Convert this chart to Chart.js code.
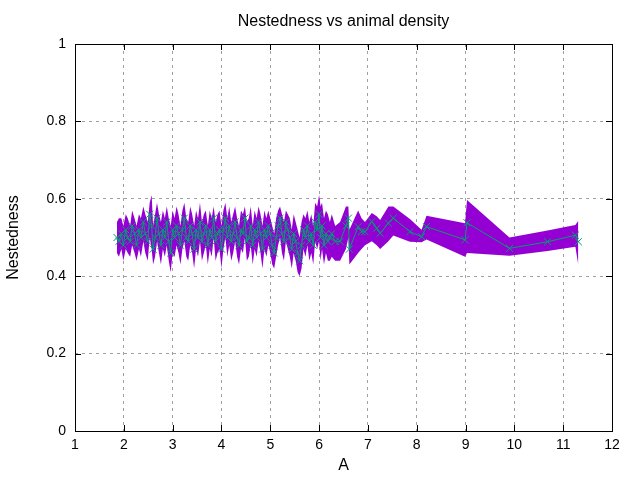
<!DOCTYPE html>
<html>
<head>
<meta charset="utf-8">
<script src="https://cdn.jsdelivr.net/npm/chart.js@4.4.1/dist/chart.umd.min.js"></script>
<style>
  body { margin: 0; background: #fff; }
</style>
</head>
<body>
<canvas id="chart" width="640" height="480"></canvas>
<script>
// animal density A, and nestedness mean / min / max at each A
const densityA = [
  1.86, 1.90, 1.95, 1.99, 2.04, 2.08, 2.13, 2.17, 2.22, 2.26, 2.31, 2.35, 2.40, 2.44, 2.49,
  2.53, 2.57, 2.60, 2.64, 2.68, 2.72, 2.76, 2.80, 2.84, 2.88, 2.92, 2.96, 3.00,
  3.04, 3.08, 3.12, 3.16, 3.20, 3.24, 3.28, 3.32, 3.36, 3.40, 3.44, 3.48, 3.52, 3.56, 3.60, 3.64, 3.68, 3.72, 3.76, 3.80, 3.84, 3.88, 3.92, 3.96,
  4.00, 4.04, 4.08, 4.12, 4.16, 4.20, 4.24, 4.28, 4.32, 4.36, 4.40, 4.44, 4.48, 4.52, 4.56, 4.60, 4.64, 4.68, 4.72, 4.76, 4.80, 4.84, 4.88, 4.92, 4.96,
  5.00, 5.04, 5.08, 5.12, 5.16, 5.20, 5.24, 5.28, 5.32, 5.36, 5.40, 5.44, 5.48, 5.52, 5.56, 5.60, 5.64, 5.68, 5.72, 5.76, 5.80, 5.84, 5.88, 5.92, 5.96,
  6.00, 6.03, 6.06, 6.10, 6.14, 6.18, 6.22, 6.26, 6.33, 6.43, 6.55, 6.60, 6.62,
  6.80, 6.87, 6.94, 7.08, 7.18, 7.25, 7.42, 7.52, 7.86, 8.10, 8.20, 8.99, 9.03, 9.90, 10.68, 11.25, 11.31
];
const nestMean = [
  0.50, 0.49, 0.51, 0.48, 0.52, 0.50, 0.49, 0.53, 0.51, 0.48, 0.52, 0.50, 0.54, 0.51, 0.49,
  0.56, 0.53, 0.47, 0.50, 0.55, 0.51, 0.48, 0.52, 0.50, 0.54, 0.49, 0.46, 0.52,
  0.50, 0.53, 0.51, 0.48, 0.52, 0.55, 0.50, 0.49, 0.53, 0.51, 0.47, 0.52, 0.50, 0.54, 0.49, 0.51, 0.53, 0.48, 0.52, 0.50, 0.55, 0.49, 0.51, 0.52,
  0.47, 0.52, 0.55, 0.50, 0.53, 0.49, 0.51, 0.54, 0.50, 0.48, 0.52, 0.51, 0.55, 0.49, 0.50, 0.53, 0.48, 0.52, 0.50, 0.54, 0.51, 0.47, 0.52, 0.50, 0.53,
  0.51, 0.48, 0.46, 0.50, 0.53, 0.55, 0.51, 0.49, 0.54, 0.52, 0.50, 0.47, 0.51, 0.49, 0.46, 0.44, 0.48, 0.52, 0.50, 0.53, 0.49, 0.51, 0.48, 0.54, 0.52,
  0.56, 0.50, 0.53, 0.48, 0.51, 0.49, 0.50, 0.51, 0.49, 0.49, 0.53, 0.55, 0.47,
  0.528, 0.515, 0.515, 0.541, 0.524, 0.511, 0.537, 0.550, 0.515, 0.502, 0.528, 0.494, 0.538, 0.472, 0.489, 0.506, 0.489
];
const nestMin = [
  0.46, 0.45, 0.47, 0.44, 0.47, 0.46, 0.45, 0.48, 0.46, 0.44, 0.47, 0.45, 0.49, 0.46, 0.44,
  0.50, 0.47, 0.43, 0.45, 0.49, 0.46, 0.43, 0.47, 0.45, 0.48, 0.44, 0.41, 0.46,
  0.45, 0.48, 0.46, 0.43, 0.47, 0.49, 0.45, 0.44, 0.48, 0.46, 0.42, 0.47, 0.45, 0.49, 0.44, 0.46, 0.48, 0.43, 0.47, 0.45, 0.50, 0.44, 0.46, 0.47,
  0.42, 0.47, 0.50, 0.45, 0.48, 0.44, 0.46, 0.49, 0.45, 0.43, 0.47, 0.46, 0.50, 0.44, 0.45, 0.48, 0.43, 0.47, 0.45, 0.49, 0.46, 0.42, 0.47, 0.45, 0.48,
  0.46, 0.43, 0.42, 0.45, 0.48, 0.50, 0.46, 0.44, 0.49, 0.47, 0.45, 0.42, 0.46, 0.44, 0.41, 0.40, 0.42, 0.47, 0.45, 0.48, 0.44, 0.46, 0.43, 0.49, 0.47,
  0.49, 0.44, 0.47, 0.43, 0.46, 0.44, 0.44, 0.45, 0.44, 0.44, 0.47, 0.50, 0.43,
  0.460, 0.470, 0.480, 0.490, 0.480, 0.470, 0.490, 0.505, 0.489, 0.488, 0.495, 0.450, 0.460, 0.453, 0.465, 0.476, 0.429
];
const nestMax = [
  0.54, 0.55, 0.55, 0.53, 0.56, 0.55, 0.53, 0.57, 0.55, 0.53, 0.56, 0.55, 0.58, 0.56, 0.54,
  0.59, 0.61, 0.53, 0.56, 0.59, 0.56, 0.54, 0.57, 0.55, 0.58, 0.55, 0.53, 0.57,
  0.55, 0.58, 0.56, 0.53, 0.57, 0.59, 0.55, 0.54, 0.58, 0.56, 0.53, 0.57, 0.55, 0.59, 0.54, 0.56, 0.57, 0.53, 0.57, 0.55, 0.58, 0.54, 0.56, 0.57,
  0.53, 0.57, 0.59, 0.55, 0.58, 0.54, 0.56, 0.58, 0.55, 0.53, 0.57, 0.56, 0.58, 0.54, 0.55, 0.58, 0.53, 0.57, 0.55, 0.58, 0.56, 0.53, 0.57, 0.55, 0.57,
  0.55, 0.53, 0.51, 0.55, 0.57, 0.58, 0.56, 0.54, 0.57, 0.56, 0.55, 0.52, 0.56, 0.54, 0.52, 0.50, 0.54, 0.56, 0.55, 0.57, 0.54, 0.56, 0.53, 0.59, 0.58,
  0.61, 0.58, 0.59, 0.55, 0.57, 0.56, 0.54, 0.56, 0.53, 0.54, 0.58, 0.58, 0.52,
  0.570, 0.550, 0.540, 0.563, 0.555, 0.545, 0.580, 0.580, 0.548, 0.520, 0.556, 0.537, 0.597, 0.500, 0.518, 0.532, 0.543
];
const xTicks = [1, 2, 3, 4, 5, 6, 7, 8, 9, 10, 11, 12];
const yTicks = [0, 0.2, 0.4, 0.6, 0.8, 1];
const chartTitle = 'Nestedness vs animal density';

const FONT = 'Liberation Sans, Arial, sans-serif';
const pts = arr => densityA.map((a, i) => ({ x: a, y: arr[i] }));

// gnuplot style: full black border with inward ticks on every side, title centred over the plot
const frame = {
  id: 'frame',
  afterDraw(chart) {
    const { ctx, chartArea: a, scales } = chart;
    ctx.save();
    ctx.strokeStyle = '#000';
    ctx.lineWidth = 1;
    ctx.beginPath();
    xTicks.forEach(v => {
      const px = Math.round(scales.x.getPixelForValue(v)) + 0.5;
      ctx.moveTo(px, a.bottom); ctx.lineTo(px, a.bottom - 6);
      ctx.moveTo(px, a.top); ctx.lineTo(px, a.top + 6);
    });
    yTicks.forEach(v => {
      const py = Math.round(scales.y.getPixelForValue(v)) + 0.5;
      ctx.moveTo(a.left, py); ctx.lineTo(a.left + 6, py);
      ctx.moveTo(a.right, py); ctx.lineTo(a.right - 6, py);
    });
    ctx.stroke();
    ctx.strokeRect(Math.round(a.left) + 0.5, Math.round(a.top) + 0.5,
      Math.round(a.right - a.left), Math.round(a.bottom - a.top));

    ctx.fillStyle = '#000';
    ctx.font = '16px ' + FONT;
    ctx.textAlign = 'center';
    ctx.textBaseline = 'middle';
    ctx.fillText(chartTitle, (a.left + a.right) / 2, 22);
    ctx.restore();
  }
};

new Chart(document.getElementById('chart'), {
  type: 'line',
  data: {
    datasets: [
      {
        label: 'mean',
        data: pts(nestMean),
        borderColor: '#009e73',
        borderWidth: 1,
        pointStyle: 'crossRot',
        pointRadius: 5,
        pointBorderColor: '#009e73',
        pointBorderWidth: 1,
        fill: false
      },
      {
        label: 'max',
        data: pts(nestMax),
        borderWidth: 0,
        borderColor: 'rgba(0,0,0,0)',
        pointRadius: 0,
        backgroundColor: '#9400d3',
        fill: '+1'
      },
      {
        label: 'min',
        data: pts(nestMin),
        borderWidth: 0,
        borderColor: 'rgba(0,0,0,0)',
        pointRadius: 0,
        fill: false
      }
    ]
  },
  options: {
    responsive: false,
    animation: false,
    devicePixelRatio: 1,
    layout: { padding: { left: 0, right: 28, top: 44, bottom: 0 } },
    plugins: {
      legend: { display: false },
      tooltip: { enabled: false }
    },
    scales: {
      x: {
        type: 'linear',
        min: 1, max: 12,
        afterFit: s => { s.height = 49; },
        afterBuildTicks: s => { s.ticks = xTicks.map(v => ({ value: v })); },
        grid: { color: '#a0a0a0', drawTicks: false },
        border: { display: false, dash: [3, 4] },
        ticks: { color: '#000', padding: 6, font: { family: FONT, size: 14 } },
        title: { display: true, text: 'A', color: '#000', padding: { top: 0, bottom: 5 }, font: { family: FONT, size: 16 } }
      },
      y: {
        type: 'linear',
        min: 0, max: 1,
        afterFit: s => { s.width = 75; },
        afterBuildTicks: s => { s.ticks = yTicks.map(v => ({ value: v })); },
        grid: { color: '#a0a0a0', drawTicks: false },
        border: { display: false, dash: [3, 4] },
        ticks: {
          color: '#000', padding: 9, font: { family: FONT, size: 14 },
          callback: v => String(Number(v.toFixed(2)))
        },
        title: { display: true, text: 'Nestedness', color: '#000', padding: { top: 4, bottom: 0 }, font: { family: FONT, size: 16 } }
      }
    }
  },
  plugins: [frame]
});
</script>
</body>
</html>
